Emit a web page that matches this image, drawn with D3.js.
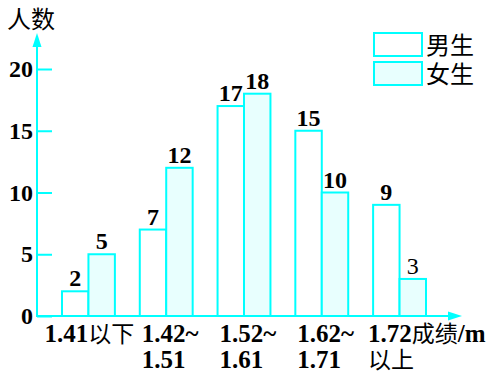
<!DOCTYPE html>
<html>
<head>
<meta charset="utf-8">
<script src="https://cdn.jsdelivr.net/npm/d3@7"></script>
<style>
  body { margin: 0; background: #fff; }
  .num { font-family: "Liberation Serif", "Times New Roman", serif; font-weight: bold; font-size: 24px; fill: #000; }
  .cjk { font-family: "Noto Sans CJK SC", sans-serif; font-weight: normal; fill: #000; }
</style>
</head>
<body>
<div id="chart"></div>
<script>
var categories = ['1.41以下', '1.42~|1.51', '1.52~|1.61', '1.62~|1.71', '1.72成绩/m|以上'];
var boys = [2, 7, 17, 15, 9];
var girls = [5, 12, 18, 10, 3];
var yTicks = [0, 5, 10, 15, 20];
var seriesNames = ['男生', '女生'];

var W = 488, H = 378;
var axisColor = '#00ffff', girlFill = '#e8fffe';

var svg = d3.select('#chart').append('svg')
    .attr('width', W)
    .attr('height', H);

var yScale = d3.scaleLinear()
    .domain([0, 20])
    .range([316, 69]);

var x0 = d3.scaleBand()
    .domain(d3.range(categories.length))
    .range([62, 426])
    .paddingInner(0.32)
    .paddingOuter(0);

var x1 = d3.scaleBand()
    .domain([0, 1])
    .range([0, x0.bandwidth()]);

// writes text splitting CJK runs from latin/digit runs
function richText(sel, str) {
    var parts = str.match(/[\u4e00-\u9fff]+|[^\u4e00-\u9fff]+/g) || [];
    parts.forEach(function(p) {
        var cjk = /[\u4e00-\u9fff]/.test(p);
        sel.append('tspan')
            .attr('class', cjk ? 'cjk' : 'num')
            .style('font-size', cjk ? '23px' : '25px')
            .text(p);
    });
}

// bars
var groups = svg.selectAll('.grp')
    .data(categories)
    .enter().append('g')
    .attr('class', 'grp')
    .attr('transform', function(d, i) { return 'translate(' + x0(i) + ',0)'; });

groups.each(function(d, i) {
    var g = d3.select(this);
    [boys[i], girls[i]].forEach(function(v, j) {
        g.append('rect')
            .attr('x', x1(j))
            .attr('y', yScale(v))
            .attr('width', x1.bandwidth())
            .attr('height', yScale(0) - yScale(v))
            .attr('fill', j === 0 ? '#fff' : girlFill)
            .attr('stroke', axisColor)
            .attr('stroke-width', 2);
        g.append('text')
            .attr('class', 'num')
            .attr('x', x1(j) + x1.bandwidth() / 2)
            .attr('y', yScale(v) - 5)
            .style('text-anchor', 'middle')
            .style('font-weight', v === 3 ? 'normal' : 'bold')
            .text(v);
    });
});

// y axis
var yAxis = d3.axisRight(yScale)
    .tickValues(yTicks)
    .tickSize(15)
    .tickFormat('');

var yg = svg.append('g')
    .attr('transform', 'translate(37,0)')
    .call(yAxis);
yg.select('.domain').remove();
yg.selectAll('.tick line')
    .attr('stroke', axisColor)
    .attr('stroke-width', 2);

svg.selectAll('.ylab')
    .data(yTicks)
    .enter().append('text')
    .attr('class', 'num')
    .attr('x', 33)
    .attr('y', function(d) { return yScale(d) + 8; })
    .style('text-anchor', 'end')
    .text(function(d) { return d; });

// axis lines with arrows
svg.append('line')
    .attr('x1', 37).attr('y1', yScale(0) + 1)
    .attr('x2', 37).attr('y2', 44)
    .attr('stroke', axisColor).attr('stroke-width', 2);
svg.append('path')
    .attr('d', 'M37,33 L41.5,47 L32.5,47 Z')
    .attr('fill', axisColor);

svg.append('line')
    .attr('x1', 36).attr('y1', yScale(0))
    .attr('x2', 452).attr('y2', yScale(0))
    .attr('stroke', axisColor).attr('stroke-width', 2);
svg.append('path')
    .attr('d', 'M462,' + yScale(0) + ' L448,' + (yScale(0) - 4.5) + ' L448,' + (yScale(0) + 4.5) + ' Z')
    .attr('fill', axisColor);

// x labels
categories.forEach(function(c, i) {
    var lines = c.split('|');
    lines.forEach(function(line, k) {
        var t = svg.append('text')
            .attr('y', 342 + k * 26);
        if (i === 0) {
            t.attr('x', x0(i) + x0.bandwidth() / 2 + 1).style('text-anchor', 'middle');
        } else if (i === categories.length - 1) {
            t.attr('x', x0(i) - 5);
        } else {
            t.attr('x', x0(i) + 2);
        }
        richText(t, line);
    });
});

// y title
svg.append('text')
    .attr('class', 'cjk')
    .attr('x', 7)
    .attr('y', 28)
    .style('font-size', '24px')
    .text('人数');

// legend
seriesNames.forEach(function(name, i) {
    svg.append('rect')
        .attr('x', 374)
        .attr('y', 33 + i * 29)
        .attr('width', 48)
        .attr('height', 23)
        .attr('fill', i === 0 ? '#fff' : girlFill)
        .attr('stroke', axisColor)
        .attr('stroke-width', 2);
    svg.append('text')
        .attr('class', 'cjk')
        .attr('x', 426)
        .attr('y', 54 + i * 29)
        .style('font-size', '24px')
        .text(name);
});
</script>
</body>
</html>
